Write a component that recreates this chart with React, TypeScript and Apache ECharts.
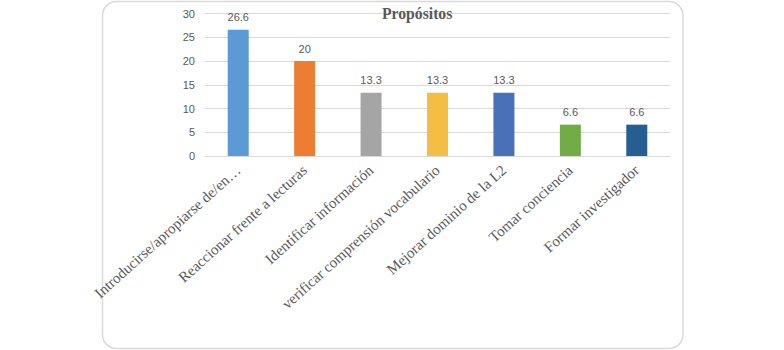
import React, { useEffect, useRef } from "react";
import * as echarts from "echarts";

const categories = [
  "Introducirse/apropiarse de/en…",
  "Reaccionar frente a lecturas",
  "Identificar información",
  "verificar comprensión vocabulario",
  "Mejorar dominio de la L2",
  "Tomar conciencia",
  "Formar investigador",
];
const values = [26.6, 20, 13.3, 13.3, 13.3, 6.6, 6.6];
const barColors = ["#5b9bd5", "#ed7d31", "#a5a5a5", "#f5bd42", "#4a70b8", "#70ad47", "#255e91"];
const titleText = "Propósitos";

export default function App() {
  const ref = useRef<HTMLDivElement>(null);
  useEffect(() => {
    if (!ref.current) return;
    const chart = echarts.init(ref.current, undefined, { renderer: "svg" });
    chart.setOption({
      animation: false,
      backgroundColor: "#ffffff",
      title: {
        text: titleText,
        left: 382,
        top: 5,
        padding: 0,
        textStyle: {
          fontFamily: "Liberation Serif, Times New Roman, serif",
          fontWeight: "bold",
          fontSize: 15.7,
          color: "#595959",
        },
      },
      graphic: [
        {
          type: "rect",
          z: -1,
          shape: { x: 102.5, y: 1.5, width: 580.5, height: 347, r: 14 },
          style: { fill: "none", stroke: "#d9d9d9", lineWidth: 1.5 },
          silent: true,
        },
      ],
      grid: { left: 205, right: 114, top: 13.5, bottom: 194 },
      xAxis: {
        type: "category",
        data: categories,
        axisLine: { show: true, lineStyle: { color: "#d9d9d9", width: 1 } },
        axisTick: { show: false },
        axisLabel: {
          interval: 0,
          rotate: 42,
          margin: 12,
          fontFamily: "Liberation Serif, Times New Roman, serif",
          fontSize: 15,
          color: "#595959",
        },
      },
      yAxis: {
        type: "value",
        min: 0,
        max: 30,
        interval: 5,
        axisLine: { show: false },
        axisTick: { show: false },
        splitLine: { lineStyle: { color: "#d9d9d9", width: 1 } },
        axisLabel: {
          margin: 10,
          fontFamily: "Liberation Sans, Arial, sans-serif",
          fontSize: 11,
          color: "#595959",
        },
      },
      series: [
        {
          type: "bar",
          barWidth: 21,
          data: values.map((v, i) => ({ value: v, itemStyle: { color: barColors[i] } })),
          label: {
            show: true,
            position: "top",
            distance: 7,
            fontFamily: "Liberation Sans, Arial, sans-serif",
            fontSize: 11,
            color: "#595959",
          },
        },
      ],
    });
    return () => chart.dispose();
  }, []);
  return (
    <div
      ref={ref}
      style={{ position: "fixed", left: 0, top: 0, width: 784, height: 350 }}
    />
  );
}
